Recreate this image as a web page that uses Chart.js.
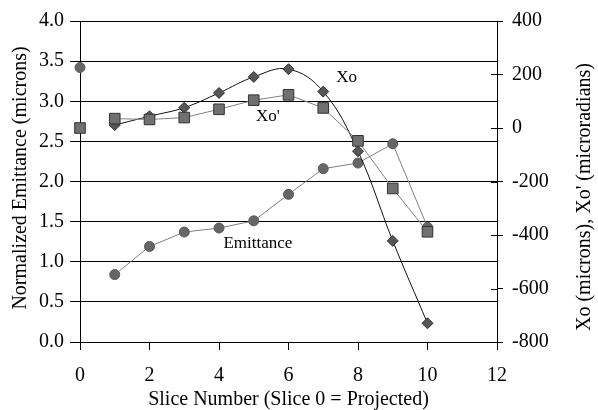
<!DOCTYPE html>
<html>
<head>
<meta charset="utf-8">
<script src="https://cdn.jsdelivr.net/npm/chart.js@4"></script>
<style>
  html, body { margin: 0; padding: 0; background: #fff; }
  #wrap { width: 598px; height: 410px; }
</style>
</head>
<body>
<div id="wrap"><canvas id="chart" width="598" height="410"></canvas></div>
<script>
// ── Data ──────────────────────────
const slices = [1, 2, 3, 4, 5, 6, 7, 8, 9, 10];
const emittance = [0.84, 1.19, 1.37, 1.42, 1.51, 1.84, 2.16, 2.23, 2.47, 1.43];
const xo = [11, 44, 76, 131, 191, 220, 136, -87, -422, -730];
const xoPrime = [35, 32, 39, 70, 104, 124, 75, -48, -226, -388];

// slice 0 = projected beam (plotted without a connecting line)
const projectedSlice = [0];
const projectedEmittance = [3.42];
const projectedXoPrime = [0];

const SERIF = "'Liberation Serif', 'Times New Roman', serif";

// in-plot series names, placed in data coordinates
const seriesLabels = [
    { text: 'Xo', x: 7.67, y: 3.29 },
    { text: "Xo'", x: 5.41, y: 2.81 },
    { text: 'Emittance', x: 5.12, y: 1.23 },
];

function points(xs, ys) {
    return xs.map((x, i) => ({ x: x, y: ys[i] }));
}

// Titles, series names and the inner half of the right tick marks
const decorPlugin = {
    id: 'decor',
    afterDraw(chart) {
        const { ctx, scales } = chart;
        ctx.save();
        ctx.fillStyle = '#000';
        ctx.textAlign = 'center';
        ctx.textBaseline = 'middle';

        ctx.font = `17px ${SERIF}`;
        seriesLabels.forEach(l => {
            ctx.fillText(l.text, scales.x.getPixelForValue(l.x), scales.y.getPixelForValue(l.y));
        });

        ctx.font = `20px ${SERIF}`;
        ctx.save();
        ctx.translate(21, 178);
        ctx.rotate(-Math.PI / 2);
        ctx.fillText('Normalized Emittance (microns)', 0, 0);
        ctx.restore();

        ctx.save();
        ctx.translate(585, 197);
        ctx.rotate(-Math.PI / 2);
        ctx.fillText("Xo (microns), Xo' (microradians)", 0, 0);
        ctx.restore();

        const r = scales.y2;
        ctx.strokeStyle = '#000';
        ctx.lineWidth = 1;
        r.ticks.forEach(t => {
            const py = Math.round(r.getPixelForValue(t.value)) + 0.5;
            ctx.beginPath();
            ctx.moveTo(r.left - 6, py);
            ctx.lineTo(r.left, py);
            ctx.stroke();
        });
        ctx.restore();
    }
};

const tickFont = { family: SERIF, size: 20 };

new Chart(document.getElementById('chart').getContext('2d'), {
    type: 'line',
    data: {
        datasets: [
            {
                label: "Xo'",
                data: points(slices, xoPrime),
                yAxisID: 'y2',
                clip: false,
                borderColor: '#808080',
                borderWidth: 1,
                pointStyle: 'rect',
                pointRadius: 7.5,
                pointBackgroundColor: '#707070',
                pointBorderColor: '#333',
                pointBorderWidth: 1,
            },
            {
                label: "Xo' projected",
                data: points(projectedSlice, projectedXoPrime),
                yAxisID: 'y2',
                clip: false,
                showLine: false,
                pointStyle: 'rect',
                pointRadius: 7.5,
                pointBackgroundColor: '#707070',
                pointBorderColor: '#333',
                pointBorderWidth: 1,
            },
            {
                label: 'Xo',
                data: points(slices, xo),
                yAxisID: 'y2',
                clip: false,
                borderColor: '#111',
                borderWidth: 1,
                tension: 0.4,
                pointStyle: 'rectRot',
                pointRadius: 5.5,
                pointBackgroundColor: '#555',
                pointBorderColor: '#333',
                pointBorderWidth: 1,
            },
            {
                label: 'Emittance projected',
                data: points(projectedSlice, projectedEmittance),
                yAxisID: 'y',
                clip: false,
                showLine: false,
                pointStyle: 'circle',
                pointRadius: 5,
                pointBackgroundColor: '#666',
                pointBorderColor: '#5a5a5a',
                pointBorderWidth: 1,
            },
            {
                label: 'Emittance',
                data: points(slices, emittance),
                yAxisID: 'y',
                clip: false,
                borderColor: '#808080',
                borderWidth: 1,
                pointStyle: 'circle',
                pointRadius: 5,
                pointBackgroundColor: '#666',
                pointBorderColor: '#5a5a5a',
                pointBorderWidth: 1,
            },
        ]
    },
    options: {
        responsive: false,
        animation: false,
        devicePixelRatio: 1,
        layout: { padding: { top: 16, left: 0, right: 0, bottom: 0 } },
        plugins: { legend: { display: false }, tooltip: { enabled: false } },
        scales: {
            x: {
                type: 'linear',
                min: 0,
                max: 12,
                ticks: { stepSize: 2, color: '#000', font: tickFont, padding: 14, maxRotation: 0 },
                grid: { drawOnChartArea: false, color: '#000', tickLength: 8 },
                border: { color: '#000' },
                title: {
                    display: true,
                    text: 'Slice Number (Slice 0 = Projected)',
                    color: '#000',
                    font: { family: SERIF, size: 20, lineHeight: 1 },
                    padding: 0,
                },
                afterFit: s => { s.height = 68; }
            },
            y: {
                position: 'left',
                min: 0,
                max: 4,
                ticks: { stepSize: 0.5, color: '#000', font: tickFont, padding: 6, callback: v => v.toFixed(1) },
                grid: { color: '#000', tickLength: 10 },
                border: { color: '#000' },
                afterFit: s => { s.width = 80; }
            },
            y2: {
                position: 'right',
                min: -800,
                max: 400,
                ticks: { stepSize: 200, color: '#000', font: tickFont, padding: 9 },
                grid: { drawOnChartArea: false, color: '#000', tickLength: 6 },
                border: { color: '#000' },
                afterFit: s => { s.width = 101; }
            }
        }
    },
    plugins: [decorPlugin]
});
</script>
</body>
</html>
